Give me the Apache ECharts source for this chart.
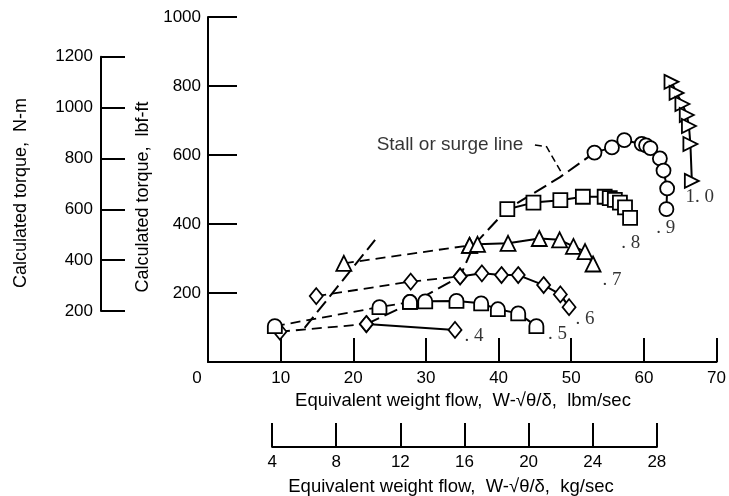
<!DOCTYPE html>
<html><head><meta charset="utf-8">
<script src="https://cdn.jsdelivr.net/npm/echarts@6/dist/echarts.min.js"></script>
<style>html,body{margin:0;padding:0;background:#fff}#c{width:729px;height:496px}</style>
</head><body><div id="c"></div>
<script>
// ---- data (flow in lbm/sec, torque in lbf-ft) ----
const flowTicks = [0, 10, 20, 30, 40, 50, 60, 70];
const kgTicks = [4, 8, 12, 16, 20, 24, 28];
const torqueTicks = [200, 400, 600, 800, 1000];
const nmTicks = [200, 400, 600, 800, 1000, 1200];

const flow04 = [9.9, 21.8, 34.0];
const torque04 = [88, 110, 93];
const flow05 = [9.2, 23.6, 27.8, 29.9, 34.2, 37.6, 39.9, 42.7, 45.2];
const torque05 = [104, 159, 174, 176, 177, 170, 153, 141, 104];
const flow06 = [14.9, 27.9, 34.7, 37.7, 40.4, 42.7, 46.2, 48.5, 49.7];
const torque06 = [191, 233, 248, 257, 252, 252, 223, 196, 159];
const flow07 = [18.7, 36.0, 37.1, 41.3, 45.6, 48.4, 50.3, 51.9, 53.0];
const torque07 = [286, 338, 341, 344, 358, 354, 335, 320, 284];
const flow08 = [41.2, 44.8, 48.5, 51.6, 54.6, 55.3, 56.0, 56.7, 57.4, 58.1];
const torque08 = [443, 462, 469, 479, 479, 475, 470, 462, 448, 418];
const flow09 = [53.2, 55.6, 57.3, 59.7, 60.3, 60.9, 62.2, 62.7, 63.2, 63.1];
const torque09 = [607, 622, 643, 632, 628, 620, 590, 555, 503, 443];
const flow10 = [63.8, 64.5, 65.3, 65.9, 66.2, 66.4, 66.6];
const torque10 = [812, 780, 748, 716, 684, 632, 525];

const stallFlow = [21.8, 28.6, 34.7, 36.6, 41.2, 48.4, 53.2];
const stallTorque = [110, 177, 248, 339, 443, 535, 607];
const surgeFlow = [13.3, 23.0];
const surgeTorque = [99, 354];
const leaderFlow = [45.0, 46.6, 48.7];
const leaderTorque = [629, 624, 547];
const annotationText = 'Stall or surge line';

const speedLabels = ['. 4', '. 5', '. 6', '. 7', '. 8', '. 9', '1. 0'];
const speedLabelFlow = [36.6, 48.1, 51.9, 55.6, 58.2, 63.0, 67.7];
const speedLabelTorque = [75, 81, 125, 238, 345, 388, 478];

// ---- build ----
const LBF_TO_NM = 1.3558;
const LB_TO_KG = 0.453592;
const pts = (xs, ys) => xs.map((x, i) => [x, ys[i]]);
const archPath = 'path://M0,10 L0,5 A5,5 0 0 1 10,5 L10,10 Z';
const rightTri = 'path://M0,0 L10,5 L0,10 Z';
const markerStyle = {color: '#fff', borderColor: '#000', borderWidth: 1.8};

function speed(xs, ys, dashEnd, symbol, size) {
  const p = pts(xs, ys);
  const out = [];
  const base = {type: 'line', xAxisIndex: 0, yAxisIndex: 0, symbol: symbol, symbolSize: size,
    showAllSymbol: true, itemStyle: markerStyle, z: 3, silent: true};
  if (dashEnd > 0) {
    out.push(Object.assign({}, base, {data: p.slice(0, dashEnd + 1),
      lineStyle: {color: '#000', width: 1.8, type: [10, 6]}}));
  }
  out.push(Object.assign({}, base, {data: p.slice(dashEnd),
    lineStyle: {color: '#000', width: 2}}));
  return out;
}

const titleFont = "'Liberation Sans', Arial, sans-serif";
const tickFont = {fontFamily: titleFont, fontSize: 17, color: '#000'};
const axLine = {show: true, lineStyle: {color: '#000', width: 2}};

const H = 345; // main plot height, 0..1000 lbf-ft
const top0 = 17, bottom0 = top0 + H;
const left0 = 208, W = 509;
const pxPerLbf = H / 1000;
const pxPerLbm = W / 70;

const nmTop = bottom0 - nmTicks[nmTicks.length - 1] / LBF_TO_NM * pxPerLbf;
const nmBottom = bottom0 - nmTicks[0] / LBF_TO_NM * pxPerLbf;
const kgLeft = left0 + kgTicks[0] / LB_TO_KG * pxPerLbm;
const kgRight = left0 + kgTicks[kgTicks.length - 1] / LB_TO_KG * pxPerLbm;

const option = {
  animation: false,
  backgroundColor: '#fff',
  grid: [
    {left: left0, top: top0, width: W, height: H},
    {left: 101, top: nmTop, width: 10, height: nmBottom - nmTop},
    {left: kgLeft, top: 420, width: kgRight - kgLeft, height: 447 - 420}
  ],
  xAxis: [
    {gridIndex: 0, type: 'value', min: flowTicks[0], max: flowTicks[flowTicks.length - 1], interval: 10,
      axisLine: axLine, splitLine: {show: false},
      axisTick: {inside: true, length: 24, lineStyle: {color: '#000', width: 2}},
      axisLabel: Object.assign({}, tickFont, {margin: 8,
        formatter: v => v === 0 ? '{z|0}' : String(v),
        rich: {z: Object.assign({}, tickFont, {padding: [0, 22, 0, 0]})}})},
    {gridIndex: 1, type: 'value', show: false},
    {gridIndex: 2, type: 'value', min: kgTicks[0], max: kgTicks[kgTicks.length - 1], interval: 4,
      axisLine: axLine, splitLine: {show: false},
      axisTick: {inside: true, length: 24, lineStyle: {color: '#000', width: 2}},
      axisLabel: Object.assign({}, tickFont, {margin: 7, formatter: v => String(v)})}
  ],
  yAxis: [
    {gridIndex: 0, type: 'value', min: 0, max: torqueTicks[torqueTicks.length - 1], interval: 200,
      axisLine: axLine, splitLine: {show: false},
      axisTick: {inside: true, length: 29, lineStyle: {color: '#000', width: 2}},
      axisLabel: Object.assign({}, tickFont, {margin: 7, formatter: v => v === 0 ? '' : String(v)})},
    {gridIndex: 1, type: 'value', min: nmTicks[0], max: nmTicks[nmTicks.length - 1], interval: 200,
      axisLine: axLine, splitLine: {show: false},
      axisTick: {inside: true, length: 24, lineStyle: {color: '#000', width: 2}},
      axisLabel: Object.assign({}, tickFont, {margin: 8, formatter: v => String(v)})},
    {gridIndex: 2, type: 'value', show: false}
  ],
  graphic: [
    {type: 'text', x: 463, y: 401, style: {text: 'Equivalent weight flow,  W-√θ/δ,  lbm/sec', font: '18.5px ' + titleFont, fill: '#000', align: 'center', verticalAlign: 'middle'}},
    {type: 'text', x: 451, y: 487, style: {text: 'Equivalent weight flow,  W-√θ/δ,  kg/sec', font: '18.5px ' + titleFont, fill: '#000', align: 'center', verticalAlign: 'middle'}},
    {type: 'text', x: 21, y: 193, rotation: Math.PI / 2, style: {text: 'Calculated torque,  N-m', font: '18px ' + titleFont, fill: '#000', align: 'center', verticalAlign: 'middle'}},
    {type: 'text', x: 143, y: 197, rotation: Math.PI / 2, style: {text: 'Calculated torque,  lbf-ft', font: '18px ' + titleFont, fill: '#000', align: 'center', verticalAlign: 'middle'}}
  ],
  series: [
    {type: 'line', data: pts(stallFlow, stallTorque), symbol: 'none', z: 1, silent: true,
      lineStyle: {color: '#000', width: 2, type: [14, 6]}},
    {type: 'line', data: pts(surgeFlow, surgeTorque), symbol: 'none', z: 1, silent: true,
      lineStyle: {color: '#000', width: 2, type: [14, 6]}},
    {type: 'line', data: pts(leaderFlow, leaderTorque), symbol: 'none', z: 1, silent: true,
      lineStyle: {color: '#000', width: 1.5, type: [7, 4]}},
    {type: 'scatter', symbolSize: 1, z: 4, silent: true, itemStyle: {color: 'rgba(0,0,0,0)'},
      data: [{value: [leaderFlow[0], leaderTorque[0]], name: annotationText}],
      label: {show: true, position: 'left', distance: 11, formatter: p => p.name,
        fontFamily: titleFont, fontSize: 19, color: '#000'}},
    ...speed(flow04, torque04, 1, 'diamond', [13, 16]),
    ...speed(flow05, torque05, 2, archPath, 14),
    ...speed(flow06, torque06, 2, 'diamond', [13, 16]),
    ...speed(flow07, torque07, 1, 'triangle', 15),
    ...speed(flow08, torque08, 0, 'rect', 14),
    ...speed(flow09, torque09, 0, 'circle', 14),
    ...speed(flow10, torque10, 0, rightTri, 14),
    {type: 'scatter', symbolSize: 0, z: 4, silent: true,
      data: speedLabels.map((t, i) => ({value: [speedLabelFlow[i], speedLabelTorque[i]], name: t})),
      label: {show: true, position: 'inside', formatter: p => p.name,
        fontFamily: "'Liberation Serif', serif", fontSize: 19, color: '#000'}}
  ]
};
const chart = echarts.init(document.getElementById('c'), null, {renderer: 'canvas'});
chart.setOption(option);
</script></body></html>
